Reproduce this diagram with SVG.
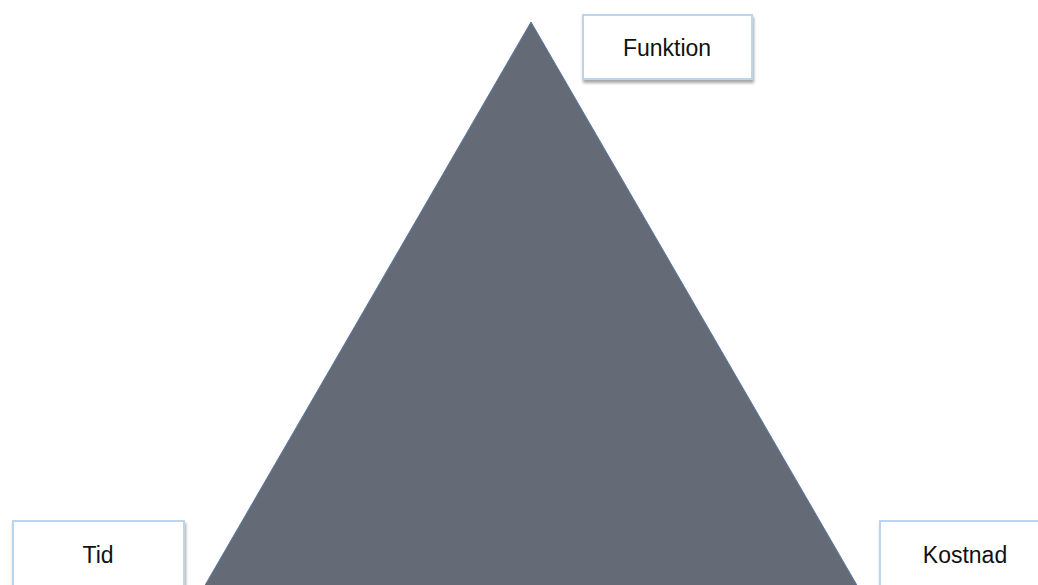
<svg xmlns="http://www.w3.org/2000/svg" width="1038" height="585" viewBox="0 0 1038 585">
<defs>
<filter id="sh" x="-10%" y="-10%" width="130%" height="140%">
<feDropShadow dx="1" dy="3" stdDeviation="1.5" flood-color="#000" flood-opacity="0.35"/>
</filter>
</defs>
<style>
.box{fill:#fff;stroke:#BCD5EE;stroke-width:2}
.lbl{font-family:"Liberation Sans",Arial,sans-serif;font-size:23px;fill:#111;text-anchor:middle}
</style>
<rect width="1038" height="585" fill="#fff"/>
<g id="triangle">
<polygon points="531,22 858,587 204,587" fill="#646B77" stroke="#5A78A8" stroke-width="1"/>
</g>
<g id="connectors"></g>
<g id="funktion">
<rect class="box" x="583" y="15" width="169" height="64" filter="url(#sh)"/>
<text class="lbl" x="667" y="56">Funktion</text>
</g>
<g id="tid">
<rect class="box" x="13" y="521" width="171" height="80" filter="url(#sh)"/>
<text class="lbl" x="98" y="563">Tid</text>
</g>
<g id="kostnad">
<rect class="box" x="880" y="521" width="180" height="80" filter="url(#sh)"/>
<text class="lbl" x="965" y="563">Kostnad</text>
</g>
</svg>
